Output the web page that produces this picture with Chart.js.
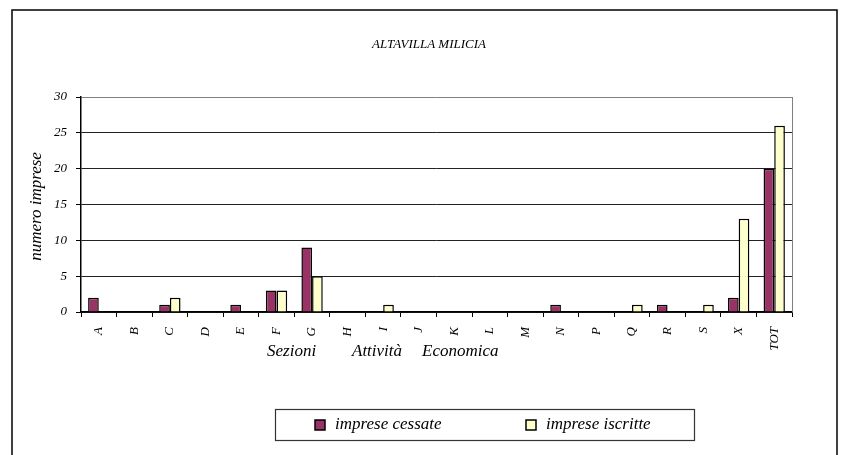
<!DOCTYPE html>
<html>
<head>
<meta charset="utf-8">
<script src="https://cdn.jsdelivr.net/npm/chart.js@4/dist/chart.umd.min.js"></script>
<style>
    html, body { margin: 0; padding: 0; background: #fff; }
    canvas { display: block; }
</style>
</head>
<body>
<canvas id="chart" width="841" height="455"></canvas>
<script>
    "use strict";

    const title = 'ALTAVILLA MILICIA';
    const sezioni = ['A', 'B', 'C', 'D', 'E', 'F', 'G', 'H', 'I', 'J', 'K', 'L', 'M', 'N', 'P', 'Q', 'R', 'S', 'X', 'TOT'];
    const seriesNames = ['imprese cessate', 'imprese iscritte'];
    const cessate = [2, 0, 1, 0, 1, 3, 9, 0, 0, 0, 0, 0, 0, 1, 0, 0, 1, 0, 2, 20];
    const iscritte = [0, 0, 2, 0, 0, 3, 5, 0, 1, 0, 0, 0, 0, 0, 0, 1, 0, 1, 13, 26];
    const yMax = 30;
    const yStep = 5;
    const yTitle = 'numero imprese';
    const xTitleWords = ['Sezioni', 'Attività', 'Economica'];

    const serif = '"Liberation Serif", "Times New Roman", serif';
    const colors = ['#993366', '#FFFFCC'];

    // frame, title, axis titles and the boxed legend at the bottom
    const decorations = {
        id: 'decorations',
        afterDraw: function (chart) {
            const ctx = chart.ctx,
                area = chart.chartArea;

            ctx.save();

            // outer frame (cut at the bottom like the original)
            ctx.strokeStyle = '#000';
            ctx.lineWidth = 1.5;
            ctx.strokeRect(12, 10, 825, 470);

            // right border of plot area
            ctx.strokeStyle = '#808080';
            ctx.lineWidth = 1;
            ctx.beginPath();
            ctx.moveTo(area.right + 0.5, area.top);
            ctx.lineTo(area.right + 0.5, area.bottom);
            ctx.stroke();

            ctx.fillStyle = '#000';
            ctx.textBaseline = 'middle';
            ctx.textAlign = 'center';
            ctx.font = 'italic 13px ' + serif;
            ctx.fillText(title, 429, 45);

            // y title
            ctx.save();
            ctx.translate(37, (area.top + area.bottom) / 2 + 2);
            ctx.rotate(-Math.PI / 2);
            ctx.font = 'italic 17px ' + serif;
            ctx.fillText(yTitle, 0, 0);
            ctx.restore();

            // x title, words spread like the original
            ctx.font = 'italic 17px ' + serif;
            ctx.textAlign = 'left';
            const xPos = [267, 352, 422];
            xTitleWords.forEach(function (w, i) {
                ctx.fillText(w, xPos[i], 352);
            });

            // legend box
            ctx.strokeStyle = '#333';
            ctx.lineWidth = 1.2;
            ctx.strokeRect(275.5, 409.5, 419, 31);
            const markX = [315, 526];
            chart.data.datasets.forEach(function (ds, i) {
                ctx.fillStyle = ds.backgroundColor;
                ctx.fillRect(markX[i], 420, 10, 10);
                ctx.strokeStyle = '#000';
                ctx.lineWidth = 1.5;
                ctx.strokeRect(markX[i], 420, 10, 10);
                ctx.fillStyle = '#000';
                ctx.fillText(ds.label, markX[i] + 20, 425);
            });

            ctx.restore();
        }
    };

    new Chart(document.getElementById('chart').getContext('2d'), {
        type: 'bar',
        data: {
            labels: sezioni,
            datasets: [{
                label: seriesNames[0],
                data: cessate,
                backgroundColor: colors[0],
                borderColor: '#000',
                borderWidth: 1.5
            }, {
                label: seriesNames[1],
                data: iscritte,
                backgroundColor: colors[1],
                borderColor: '#000',
                borderWidth: 1.5
            }]
        },
        plugins: [decorations],
        options: {
            responsive: false,
            animation: false,
            devicePixelRatio: 1,
            layout: {
                padding: { left: 0, top: 97, right: 49, bottom: 103 }
            },
            plugins: {
                legend: { display: false },
                title: { display: false },
                tooltip: { enabled: false }
            },
            datasets: {
                bar: { categoryPercentage: 0.6, barPercentage: 1 }
            },
            scales: {
                x: {
                    afterFit: function (scale) { scale.height = 40; },
                    grid: {
                        drawOnChartArea: false,
                        drawTicks: true,
                        offset: true,
                        tickLength: 5,
                        color: '#000'
                    },
                    border: { color: '#000', width: 1.5 },
                    ticks: {
                        autoSkip: false,
                        minRotation: 90,
                        maxRotation: 90,
                        padding: 10,
                        color: '#000',
                        font: { family: serif, style: 'italic', size: 13 }
                    }
                },
                y: {
                    min: 0,
                    max: yMax,
                    afterFit: function (scale) { scale.width = 81; },
                    grid: {
                        color: function (c) {
                            return c.tick && c.tick.value === yMax ? '#808080' : '#222';
                        },
                        tickColor: '#000',
                        tickLength: 5
                    },
                    border: { color: '#000', width: 1.5 },
                    ticks: {
                        stepSize: yStep,
                        padding: 9,
                        color: '#000',
                        font: { family: serif, style: 'italic', size: 13 }
                    }
                }
            }
        }
    });
</script>
</body>
</html>
